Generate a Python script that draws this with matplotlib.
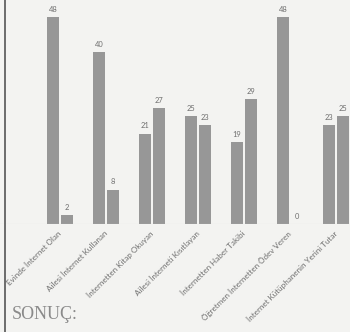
import matplotlib.pyplot as plt
import numpy as np

CATEGORIES = [
    "Evinde İnternet Olan",
    "Ailesi İnternet Kullanan",
    "İnternetten Kitap Okuyan",
    "Ailesi İnterneti Kısıtlayan",
    "İnternetten Haber Takibi",
    "Öğretmen İnternetten Ödev Veren",
    "İnternet Kütüphanenin Yerini Tutar",
]
SERIES_A = [48, 40, 21, 25, 19, 48, 23]
SERIES_B = [2, 8, 27, 23, 29, 0, 25]

BG = "#f3f3f1"
BAR = "#979797"
TEXT = "#6e6e6e"


def main() -> None:
    fig = plt.figure(figsize=(3.5, 3.32), dpi=100, facecolor=BG)
    ax = fig.add_axes([0, 0.325, 1, 0.675])
    ax.set_facecolor(BG)

    x = np.arange(len(CATEGORIES))
    width = 0.26
    offset = 0.152
    for off, vals in [(-offset, SERIES_A), (offset, SERIES_B)]:
        bars = ax.bar(x + off, vals, width, color=BAR)
        ax.bar_label(bars, padding=3, fontsize=5.4, color=TEXT, family="Lato")

    ax.set_xlim(-1.304, 6.304)
    ax.set_ylim(0, 52)
    ax.axhline(0, color="#d6d6d6", lw=0.8)
    for s in ax.spines.values():
        s.set_visible(False)
    ax.set_xticks([])
    ax.set_yticks([])

    # rotated category labels under each group
    for xi, name in zip(x, CATEGORIES):
        ax.annotate(name, (xi, 0), xytext=(0, -6), textcoords="offset points",
                    rotation=45, rotation_mode="anchor", ha="right", va="center",
                    fontsize=5.8, color=TEXT, family="Lato", annotation_clip=False)

    # scanned page edge and heading below the chart
    fig.add_artist(plt.Line2D([4.5 / 350, 4.5 / 350], [0, 1], color="#555555", lw=1.2))
    fig.text(12 / 350, 1 - 319 / 332, "SONUÇ:", fontsize=13, color="#8a8a8a",
             family="Liberation Serif")

    fig.savefig("out.png", dpi=100, facecolor=BG)


if __name__ == "__main__":
    main()
